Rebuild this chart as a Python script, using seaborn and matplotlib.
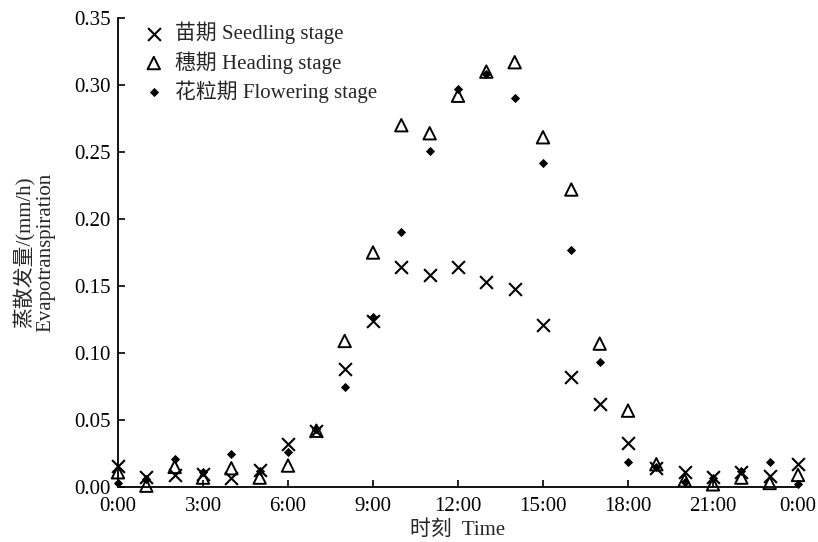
import pandas as pd
import matplotlib
matplotlib.use("Agg")
import matplotlib.pyplot as plt
import seaborn as sns

# --- Data ---
hours = list(range(25))
tick_hours = [0, 3, 6, 9, 12, 15, 18, 21, 24]
tick_labels = ["0:00", "3:00", "6:00", "9:00", "12:00", "15:00", "18:00", "21:00", "0:00"]

seedling = [0.016, 0.0075, 0.009, 0.010, 0.007, 0.013, 0.032, 0.042, 0.088, 0.124,
            0.164, 0.158, 0.164, 0.153, 0.148, 0.121, 0.082, 0.062, 0.033, 0.014,
            0.011, 0.0075, 0.011, 0.008, 0.017]
heading = [0.011, 0.001, 0.015, 0.007, 0.014, 0.007, 0.016, 0.042, 0.109, 0.175,
           0.270, 0.264, 0.292, 0.310, 0.317, 0.261, 0.222, 0.107, 0.057, 0.017,
           0.005, 0.002, 0.007, 0.003, 0.009]
flowering = [0.003, 0.006, 0.021, 0.011, 0.025, 0.012, 0.026, 0.043, 0.075, 0.127,
             0.190, 0.251, 0.297, 0.308, 0.290, 0.242, 0.177, 0.093, 0.019, 0.015,
             0.004, 0.007, 0.012, 0.019, 0.002]

labels = ["苗期 Seedling stage", "穗期 Heading stage", "花粒期 Flowering stage"]

sns.set_style("ticks")
plt.rcParams['font.family'] = ['Liberation Serif', 'Noto Sans CJK SC', 'DejaVu Sans']

fig = plt.figure(figsize=(8.18, 5.42), dpi=100)
ax = fig.add_axes([118 / 818, 55 / 542, 680 / 818, 469 / 542])

sns.scatterplot(x=hours, y=seedling, marker='x', color='black', s=85,
                linewidth=1.5, label=labels[0], ax=ax, clip_on=False)
sns.scatterplot(x=hours, y=heading, marker='^', s=80, facecolors='none',
                edgecolors='black', linewidth=1.4, label=labels[1], ax=ax, clip_on=False)
sns.scatterplot(x=hours, y=flowering, marker='D', color='black', s=22,
                linewidth=0, label=labels[2], ax=ax, clip_on=False)
# make sure the triangles stay hollow
ax.collections[1].set_facecolor('none')
ax.collections[1].set_edgecolor('black')

ax.set_xlim(0, 24)
ax.set_ylim(0, 0.35)
ax.set_xticks(tick_hours)
ax.set_xticklabels(tick_labels)
ax.set_yticks([i * 0.05 for i in range(8)])
ax.set_yticklabels([f"{i * 0.05:.2f}" for i in range(8)])
ax.tick_params(direction='in', length=5, width=1.2, labelsize=15, colors='black')
ax.tick_params(axis='x', pad=7)
ax.tick_params(axis='y', pad=5)
for side in ['left', 'bottom']:
    ax.spines[side].set_linewidth(1.3)
    ax.spines[side].set_color('black')
sns.despine(ax=ax)

ax.set_xlabel("时刻  Time", fontsize=15, labelpad=3)
ax.set_ylabel("蒸散发量/(mm/h)\nEvapotranspiration", fontsize=15, labelpad=14,
              linespacing=1.0)

leg = ax.legend(loc='upper left', bbox_to_anchor=(0.022, 1.01), frameon=False,
                fontsize=15, handlelength=1.2, handletextpad=0.4,
                labelspacing=0.33, borderaxespad=0)
for h in leg.legend_handles:
    h.set_edgecolor('black')
leg.legend_handles[1].set_facecolor('none')

fig.savefig("out.png", dpi=100)
plt.close(fig)
